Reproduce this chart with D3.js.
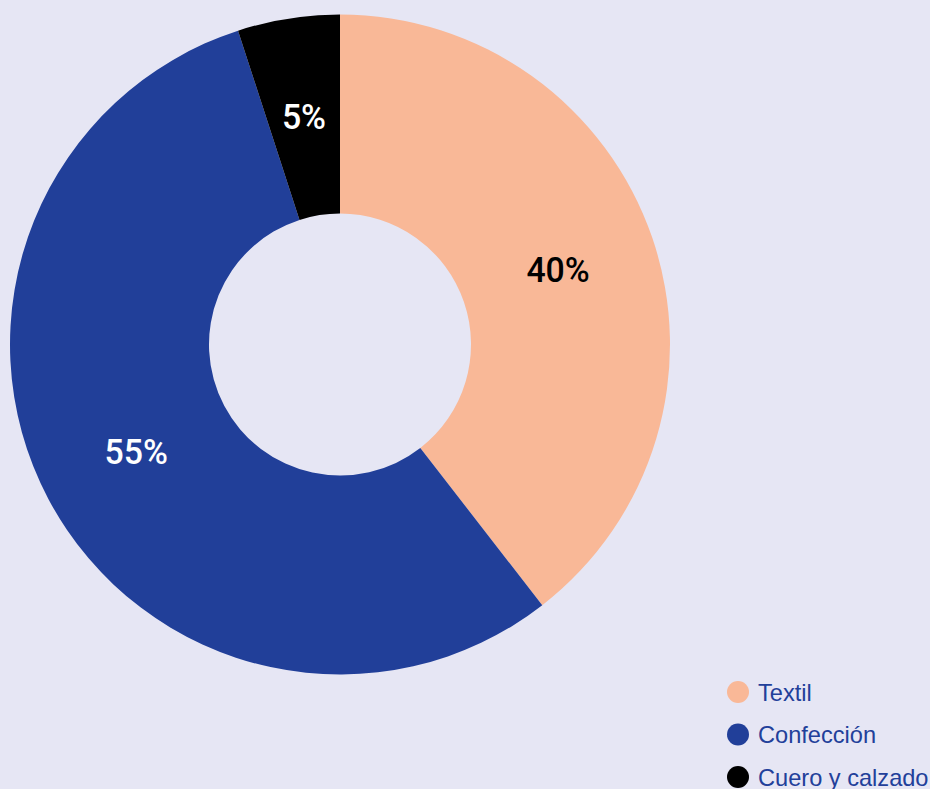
<!DOCTYPE html>
<html>
<head>
<meta charset="utf-8">
<script src="https://cdn.jsdelivr.net/npm/d3@7"></script>
<style>
html,body{margin:0;padding:0;background:#e6e6f4;}
svg{display:block;}
</style>
</head>
<body>
<svg id="chart" width="930" height="789"></svg>
<script>
const categories = ["Textil", "Confección", "Cuero y calzado"];
const values = [39.5, 55.5, 5.0];
const labels = ["40%", "55%", "5%"];
const colors = ["#f9b897", "#213f99", "#000000"];
const labelColors = ["#000000", "#ffffff", "#ffffff"];

const svg = d3.select("#chart");
const cx = 340, cy = 344.5, rOuter = 330, rInner = 131;

const data = categories.map((c, i) => ({cat: c, value: values[i], label: labels[i], color: colors[i], lc: labelColors[i]}));
const pie = d3.pie().value(d => d.value).sort(null);
const arc = d3.arc().innerRadius(rInner).outerRadius(rOuter);
const arcs = pie(data);

const g = svg.append("g").attr("transform", `translate(${cx},${cy})`);
g.selectAll("path").data(arcs).join("path")
  .attr("d", arc)
  .attr("fill", d => d.data.color);

g.selectAll("text").data(arcs).join("text")
  .attr("transform", d => { const [x, y] = arc.centroid(d); return `translate(${x},${y - 1}) scale(0.94,1)`; })
  .attr("text-anchor", "middle")
  .attr("dy", "0.36em")
  .attr("fill", d => d.data.lc)
  .style("font-family", "Roboto, sans-serif")
  .style("font-weight", 500)
  .style("font-size", "36px")
  .text(d => d.data.label);

const legend = svg.append("g").attr("transform", "translate(738,692)");
const item = legend.selectAll("g").data(data).join("g")
  .attr("transform", (d, i) => `translate(0,${i * 42.5})`);
item.append("circle").attr("r", 11).attr("fill", d => d.color);
item.append("text")
  .attr("x", 20).attr("dy", "0.36em")
  .attr("fill", "#22409a")
  .style("font-family", "'Liberation Sans', Arial, sans-serif")
  .style("font-size", "23.6px")
  .text(d => d.cat);
</script>
</body>
</html>
